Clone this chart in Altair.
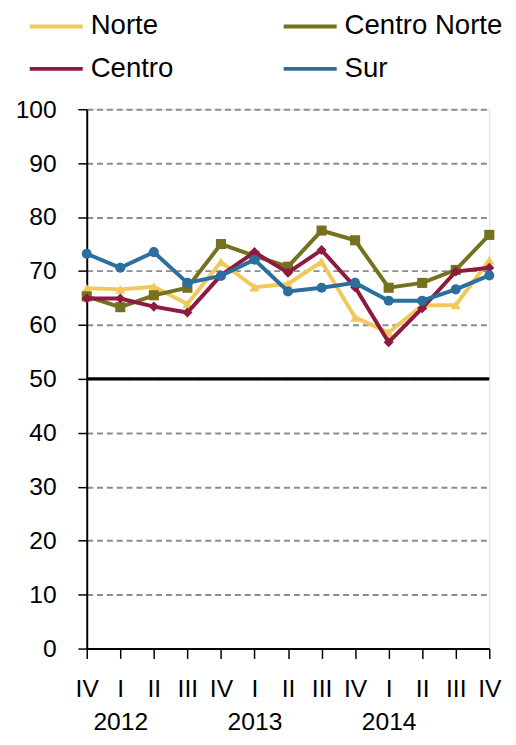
import altair as alt
import pandas as pd

quarters = ["IV", "I", "II", "III", "IV", "I", "II", "III", "IV", "I", "II", "III", "IV"]
years = ["", "2012", "", "", "", "2013", "", "", "", "2014", "", "", ""]

series_names = ["Norte", "Centro Norte", "Centro", "Sur"]
norte = [66.8, 66.6, 67.1, 63.9, 71.7, 67.0, 67.6, 71.7, 61.4, 58.6, 63.6, 63.7, 72.0]
centro_norte = [65.3, 63.3, 65.5, 66.9, 75.0, 72.8, 70.8, 77.5, 75.7, 66.9, 67.8, 70.2, 76.7]
centro = [64.9, 64.9, 63.4, 62.3, 69.2, 73.5, 69.7, 73.9, 67.0, 56.8, 63.1, 69.9, 70.6]
sur = [73.2, 70.6, 73.5, 67.8, 69.1, 72.1, 66.2, 66.9, 67.8, 64.5, 64.5, 66.6, 69.2]
colors = ["#F2C75C", "#75711F", "#8E1B3F", "#2A6F9E"]
shapes = ["triangle-up", "square", "diamond", "circle"]
threshold = [50]

rows = []
for name, vals in zip(series_names, [norte, centro_norte, centro, sur]):
    for i, v in enumerate(vals):
        rows.append({"idx": i, "value": v, "serie": name})
df = pd.DataFrame(rows)

label_arr = "[" + ",".join("['%s','%s']" % (q, y) for q, y in zip(quarters, years)) + "]"

FONT = "Liberation Sans"

x_axis = alt.Axis(
    values=list(range(13)), labelExpr=label_arr + "[datum.value]", grid=False,
    title=None, tickSize=10, tickColor="black", tickWidth=1.5, domainColor="black",
    domainWidth=2, labelFontSize=25, labelFont=FONT, labelColor="black",
    labelPadding=19, labelLineHeight=33, labelAngle=0, labelFlush=False, labelOverlap=False,
)
y_axis = alt.Axis(
    values=list(range(0, 101, 10)), title=None, tickSize=9, tickColor="black", tickWidth=1.5,
    domainColor="black", domainWidth=2, labelFontSize=25, labelFont=FONT, labelColor="black",
    labelPadding=22, grid=True, gridColor="#8c8c8c", gridDash=[6, 4], gridWidth=2,
    labelOverlap=False,
)
x_scale = alt.Scale(domain=[0, 12], nice=False, zero=False)
y_scale = alt.Scale(domain=[0, 100], nice=False)

color_enc = alt.Color(
    "serie:N",
    scale=alt.Scale(domain=series_names, range=colors),
    legend=alt.Legend(
        orient="none", legendX=-60, legendY=-113, direction="horizontal", columns=2,
        columnPadding=103, rowPadding=-6, title=None, symbolType="stroke",
        symbolSize=2900, symbolStrokeWidth=4, labelFontSize=28, labelFont=FONT,
        labelColor="black", labelOffset=6, labelLimit=0,
    ),
)

layers = []
for name, col, shp in zip(series_names, colors, shapes):
    sub = df[df["serie"] == name]
    layers.append(
        alt.Chart(sub).mark_line(strokeWidth=4).encode(
            x=alt.X("idx:Q", scale=x_scale, axis=x_axis),
            y=alt.Y("value:Q", scale=y_scale, axis=y_axis),
            color=color_enc, order=alt.Order("idx:Q"),
        )
    )
    layers.append(
        alt.Chart(sub).mark_point(filled=True, size=105, opacity=1, shape=shp, color=col).encode(
            x=alt.X("idx:Q", scale=x_scale, axis=x_axis),
            y=alt.Y("value:Q", scale=y_scale, axis=y_axis),
        )
    )

rule = alt.Chart(pd.DataFrame({"y": threshold})).mark_rule(color="black", strokeWidth=3.5).encode(
    y=alt.Y("y:Q", scale=y_scale, axis=y_axis)
)

chart = alt.layer(rule, *layers).properties(
    width=409, height=548,
    autosize=alt.AutoSizeParams(type="none"),
    padding={"left": 80, "top": 97, "right": 19, "bottom": 84},
).configure_view(stroke=None).configure(background="white").configure_axis(labelOverlap=False)

chart.save("out.html", embed_options={"renderer": "svg", "actions": False})
